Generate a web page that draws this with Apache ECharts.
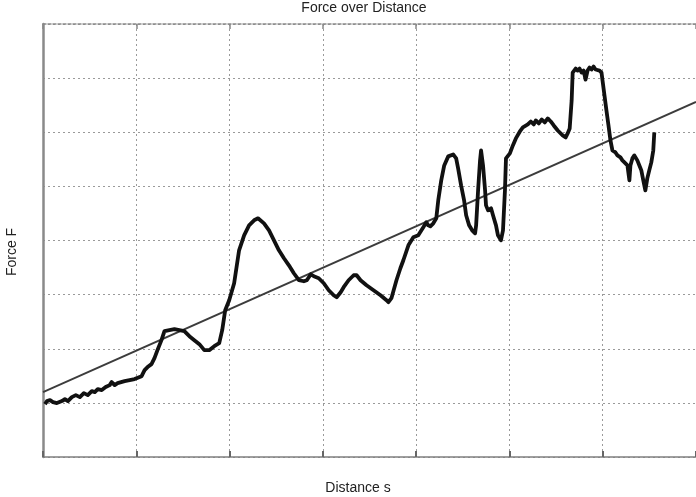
<!DOCTYPE html>
<html>
<head>
<meta charset="utf-8">
<style>html,body{margin:0;padding:0;background:#fff;}#c{width:696px;height:497px;}</style>
<script src="https://cdn.jsdelivr.net/npm/echarts@6/dist/echarts.min.js"></script>
</head>
<body>
<div id="c"></div>
<script>
// Measured force curve (distance s, force F), grid units
var distance = [0.021,0.043,0.075,0.107,0.149,0.203,0.235,0.267,0.309,0.352,0.395,0.438,0.480,0.523,0.555,0.587,0.630,0.672,0.715,0.736,0.768,0.800,0.875,0.929,0.982,1.003,1.057,1.089,1.121,1.163,1.195,1.227,1.270,1.302,1.355,1.409,1.462,1.515,1.569,1.622,1.676,1.729,1.782,1.836,1.889,1.921,1.953,1.996,2.049,2.102,2.156,2.209,2.263,2.305,2.369,2.423,2.476,2.529,2.583,2.636,2.689,2.743,2.796,2.828,2.871,2.903,2.956,3.010,3.063,3.116,3.148,3.191,3.223,3.276,3.330,3.362,3.404,3.468,3.543,3.618,3.682,3.703,3.735,3.789,3.831,3.863,3.917,3.970,4.023,4.077,4.109,4.130,4.152,4.184,4.216,4.237,4.269,4.301,4.344,4.397,4.429,4.450,4.482,4.514,4.536,4.568,4.600,4.632,4.643,4.664,4.685,4.696,4.717,4.739,4.749,4.771,4.803,4.824,4.856,4.877,4.909,4.931,4.952,4.963,5.005,5.037,5.069,5.112,5.144,5.197,5.229,5.261,5.283,5.315,5.347,5.379,5.411,5.443,5.475,5.518,5.571,5.603,5.624,5.646,5.667,5.678,5.710,5.731,5.752,5.774,5.795,5.816,5.838,5.859,5.880,5.902,5.923,5.944,5.966,5.987,5.998,6.019,6.040,6.062,6.083,6.104,6.137,6.158,6.190,6.211,6.233,6.265,6.286,6.297,6.318,6.339,6.371,6.393,6.414,6.435,6.457,6.478,6.499,6.521,6.542,6.553];
var force = [0.978,1.033,1.052,1.015,0.996,1.033,1.070,1.033,1.107,1.144,1.107,1.181,1.144,1.218,1.199,1.255,1.236,1.292,1.328,1.384,1.328,1.365,1.402,1.421,1.439,1.458,1.494,1.605,1.661,1.716,1.827,1.974,2.159,2.325,2.343,2.362,2.343,2.325,2.232,2.159,2.085,1.974,1.974,2.048,2.103,2.343,2.712,2.897,3.210,3.819,4.096,4.280,4.373,4.410,4.317,4.188,4.004,3.819,3.672,3.542,3.395,3.266,3.247,3.266,3.376,3.339,3.303,3.210,3.081,2.989,2.952,3.044,3.137,3.266,3.358,3.358,3.266,3.173,3.081,2.989,2.897,2.860,2.934,3.266,3.487,3.635,3.911,4.059,4.096,4.244,4.336,4.280,4.262,4.317,4.410,4.742,5.111,5.387,5.554,5.590,5.517,5.332,5.018,4.742,4.465,4.280,4.188,4.133,4.280,4.926,5.480,5.664,5.387,4.926,4.649,4.557,4.594,4.465,4.280,4.096,4.004,4.188,4.926,5.517,5.609,5.756,5.886,6.015,6.089,6.144,6.199,6.144,6.218,6.162,6.236,6.181,6.255,6.199,6.125,6.033,5.941,5.904,5.978,6.070,6.587,7.103,7.177,7.140,7.177,7.103,7.140,6.974,7.140,7.196,7.159,7.214,7.159,7.177,7.140,7.103,6.956,6.679,6.402,6.125,5.849,5.664,5.627,5.572,5.535,5.480,5.443,5.387,5.111,5.387,5.517,5.572,5.480,5.387,5.295,5.111,4.926,5.148,5.295,5.443,5.664,5.996];
// Linear fit endpoints
var fitDistance = [0, 7];
var fitForce = [1.20, 6.56];

var titleText = 'Force over Distance';
var xName = 'Distance s';
var yName = 'Force F';

var curve = distance.map(function(d, i){ return [d, force[i]]; });
var fit = fitDistance.map(function(d, i){ return [d, fitForce[i]]; });

var chart = echarts.init(document.getElementById('c'), null, {renderer: 'canvas'});
var gridStyle = {show: true, lineStyle: {color: '#9a9a9a', width: 1, type: [2, 3]}};
var font = '14px "Liberation Sans", Arial, sans-serif';
chart.setOption({
  backgroundColor: '#fff',
  animation: false,
  grid: {left: 43, right: -3, top: 24, bottom: 40, containLabel: false},
  graphic: [
    {type: 'text', x: 364, y: 8, style: {text: titleText, fill: '#222', font: font, align: 'center', verticalAlign: 'middle'}},
    {type: 'text', x: 358, y: 488, style: {text: xName, fill: '#222', font: font, align: 'center', verticalAlign: 'middle'}},
    {type: 'text', x: 12, y: 252, rotation: Math.PI / 2, style: {text: yName, fill: '#222', font: font, align: 'center', verticalAlign: 'middle'}}
  ],
  xAxis: [
    {type: 'value', min: 0, max: 7, interval: 1, position: 'bottom',
     axisLine: {show: true, onZero: false, lineStyle: {color: '#808080', width: 1.5}},
     axisTick: {show: true, inside: true, length: 6, lineStyle: {color: '#666', width: 2}},
     axisLabel: {show: false}, splitLine: gridStyle},
    {type: 'value', min: 0, max: 7, interval: 1, position: 'top',
     axisLine: {show: true, onZero: false, lineStyle: {color: '#8a8a8a', width: 1.5, type: [3, 2]}},
     axisTick: {show: true, inside: true, length: 5, lineStyle: {color: '#888', width: 1.5}},
     axisLabel: {show: false}, splitLine: {show: false}}
  ],
  yAxis: [
    {type: 'value', min: 0, max: 8, interval: 1,
     axisLine: {show: true, onZero: false, lineStyle: {color: '#8a8a8a', width: 2.5}},
     axisTick: {show: false}, axisLabel: {show: false}, splitLine: gridStyle}
  ],
  series: [
    {type: 'line', data: fit, showSymbol: false, silent: true,
     lineStyle: {color: '#3c3c3c', width: 2}, z: 3},
    {type: 'line', data: curve, showSymbol: false, silent: true,
     lineStyle: {color: '#111', width: 3.8, join: 'round'}, z: 4}
  ]
});
</script>
</body>
</html>
